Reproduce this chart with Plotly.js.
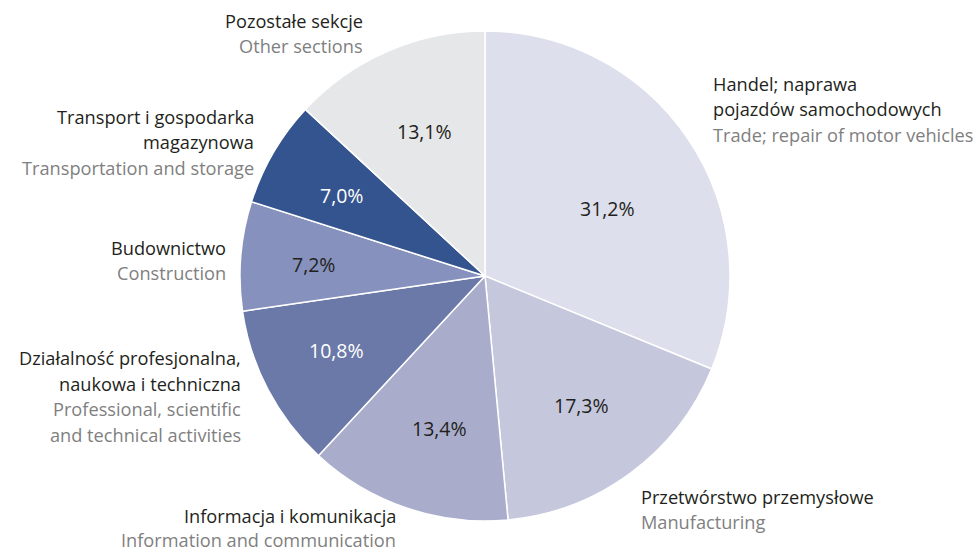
<!DOCTYPE html>
<html>
<head>
<meta charset="utf-8">
<script src="https://cdn.plot.ly/plotly-3.0.1.min.js"></script>
<style>html,body{margin:0;padding:0;background:#fff;}#chart{width:980px;height:552px;}</style>
</head>
<body>
<div id="chart"></div>
<script>
// Data
const shares = [31.2, 17.3, 13.4, 10.8, 7.2, 7.0, 13.1];
const labelsPl = [
  ["Handel; naprawa", "pojazdów samochodowych"],
  ["Przetwórstwo przemysłowe"],
  ["Informacja i komunikacja"],
  ["Działalność profesjonalna,", "naukowa i techniczna"],
  ["Budownictwo"],
  ["Transport i gospodarka", "magazynowa"],
  ["Pozostałe sekcje"]
];
const labelsEn = [
  ["Trade; repair of motor vehicles"],
  ["Manufacturing"],
  ["Information and communication"],
  ["Professional, scientific", "and technical activities"],
  ["Construction"],
  ["Transportation and storage"],
  ["Other sections"]
];
const sliceColors = ["#dedfec", "#c5c7dd", "#a9adcb", "#6b79a9", "#8692bd", "#33548f", "#e6e7e9"];
const textColors = ["#231f20", "#231f20", "#231f20", "#ffffff", "#231f20", "#ffffff", "#231f20"];

// Layout
const W = 980, H = 552;
const cx = 485, cy = 276, r = 245;
const FONT = "Open Sans, sans-serif";
const labelPos = [
  {x: 712, y: 84, align: "left", gap: 25.3},
  {x: 640, y: 497, align: "left", gap: 25.3},
  {x: 397, y: 516, align: "right", gap: 23.5},
  {x: 242, y: 358, align: "right", gap: 25.6},
  {x: 227, y: 248, align: "right", gap: 25.3},
  {x: 255, y: 117, align: "right", gap: 25.3},
  {x: 364, y: 21, align: "right", gap: 25.3}
];
// radial position of the percentage label, as a fraction of the radius
const pctRadius = [0.57, 0.66, 0.65, 0.68, 0.70, 0.67, 0.64];
const pctAngleShift = [5, 0, -2, 1, -1, -1, 1]; // degrees

const annotations = [];
labelsPl.forEach((pl, i) => {
  const p = labelPos[i];
  const lines = pl.map(t => ({t, c: "#231f20"})).concat(labelsEn[i].map(t => ({t, c: "#7f7f7f"})));
  lines.forEach((ln, k) => {
    annotations.push({
      xref: "paper", yref: "paper",
      x: p.x / W, y: 1 - (p.y + k * p.gap) / H,
      xanchor: p.align, yanchor: "middle",
      text: ln.t, showarrow: false, align: p.align, borderpad: 0,
      font: {family: FONT, size: 18.2, color: ln.c}
    });
  });
});

// percentage labels placed at each slice's mid-angle (derived from the values)
const total = shares.reduce((a, b) => a + b, 0);
let cum = 0;
shares.forEach((v, i) => {
  const mid = (cum + v / 2) / total * 2 * Math.PI + pctAngleShift[i] * Math.PI / 180;
  cum += v;
  const px = cx + pctRadius[i] * r * Math.sin(mid);
  const py = cy - pctRadius[i] * r * Math.cos(mid);
  annotations.push({
    xref: "paper", yref: "paper",
    x: px / W, y: 1 - py / H, xanchor: "center", yanchor: "middle",
    text: v.toFixed(1).replace(".", ",") + "%", showarrow: false, borderpad: 0,
    font: {family: FONT, size: 19.5, color: textColors[i]}
  });
});

const trace = {
  type: "pie",
  values: shares,
  labels: labelsEn.map(l => l.join(" ")),
  textinfo: "none",
  sort: false,
  direction: "clockwise",
  rotation: 0,
  marker: {colors: sliceColors, line: {color: "#ffffff", width: 1.5}},
  hoverinfo: "none",
  domain: {x: [(cx - r) / W, (cx + r) / W], y: [1 - (cy + r) / H, 1 - (cy - r) / H]}
};

Plotly.newPlot("chart", [trace], {
  width: W, height: H,
  margin: {l: 0, r: 0, t: 0, b: 0},
  showlegend: false,
  paper_bgcolor: "#ffffff",
  annotations: annotations
}, {displayModeBar: false, staticPlot: true});
</script>
</body>
</html>
